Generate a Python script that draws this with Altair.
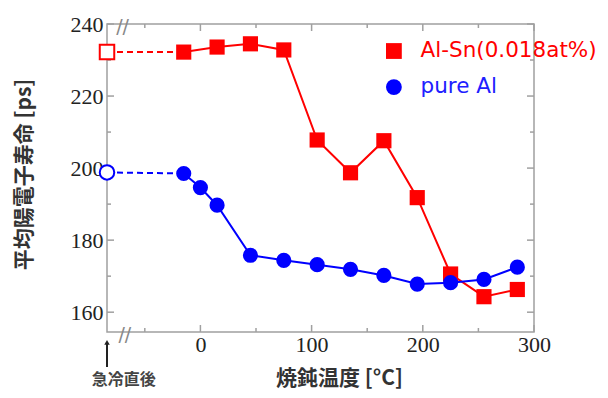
import altair as alt
import pandas as pd

# ---- data ----
temps_sn = [-15, 15, 45, 75, 105, 135, 165, 195, 225, 255, 285]
life_sn = [232.2, 233.6, 234.5, 232.8, 207.8, 198.7, 207.6, 191.8, 170.6, 164.3, 166.3]
temps_al = [-15, 0, 15, 45, 75, 105, 135, 165, 195, 225, 255, 285]
life_al = [198.5, 194.6, 189.7, 175.8, 174.4, 173.2, 171.9, 170.2, 167.8, 168.2, 169.1, 172.5]
quench_x = -84
quench_sn = 232.2
quench_al = 198.8
series_names = ["Al-Sn(0.018at%)", "pure Al"]
x_major = [0, 100, 200, 300]
x_minor = [-50, 50, 150, 250]
y_major = [160, 180, 200, 220, 240]
y_minor = [170, 190, 210, 230]

RED = "#ff0000"
BLUE = "#0000ff"
GRAY = "#a0a0a0"
W, H = 427, 308
MAJ, MIN = 7, 4

xs = alt.Scale(domain=[-84, 300], nice=False, zero=False)
ys = alt.Scale(domain=[154.5, 240], nice=False, zero=False)

main_x_axis = alt.Axis(values=x_major, ticks=False, domain=False, grid=False,
                       labelFont="Liberation Serif", labelFontSize=22, labelColor="#222",
                       labelPadding=2, labelFlush=False, labelOverlap=False,
                       title="焼鈍温度 [°C]", titleFont="Noto Sans CJK JP", titleFontSize=21,
                       titleFontWeight="bold", titleColor="#333", titleX=232, titleY=46,
                       titleAlign="center", titleBaseline="middle")
main_y_axis = alt.Axis(values=y_major, ticks=False, domain=False, grid=False,
                       labelFont="Liberation Serif", labelFontSize=22, labelColor="#222",
                       labelPadding=4, labelOverlap=False,
                       title="平均陽電子寿命 [ps]", titleFont="Noto Sans CJK JP", titleFontSize=21,
                       titleFontWeight="bold", titleColor="#333", titleX=-83, titleY=150,
                       titleAlign="center", titleBaseline="middle", titleAngle=270)

X = alt.X("x:Q", scale=xs, axis=main_x_axis)
Y = alt.Y("y:Q", scale=ys, axis=main_y_axis)

sn = pd.DataFrame({"x": temps_sn, "y": life_sn})
al = pd.DataFrame({"x": temps_al, "y": life_al})
dash_sn = pd.DataFrame({"x": [quench_x, temps_sn[0]], "y": [quench_sn, life_sn[0]]})
dash_al = pd.DataFrame({"x": [quench_x, temps_al[0]], "y": [quench_al, life_al[0]]})
open_sn = pd.DataFrame({"x": [quench_x], "y": [quench_sn]})
open_al = pd.DataFrame({"x": [quench_x], "y": [quench_al]})

# inward ticks: positions from the tick arrays through the scales, lengths in pixels
xt_maj = pd.DataFrame({"x": x_major})
xt_min = pd.DataFrame({"x": x_minor})
yt_maj = pd.DataFrame({"y": y_major})
yt_min = pd.DataFrame({"y": y_minor})


def xticks(df, size):
    bot = alt.Chart(df).mark_rule(color=GRAY, strokeWidth=1.5).encode(
        x=X, y=alt.value(H), y2=alt.value(H - size))
    top = alt.Chart(df).mark_rule(color=GRAY, strokeWidth=1.5).encode(
        x=X, y=alt.value(0), y2=alt.value(size))
    return [bot, top]


def yticks(df, size):
    left = alt.Chart(df).mark_rule(color=GRAY, strokeWidth=1.5).encode(
        y=Y, x=alt.value(0), x2=alt.value(size))
    right = alt.Chart(df).mark_rule(color=GRAY, strokeWidth=1.5).encode(
        y=Y, x=alt.value(W), x2=alt.value(W - size))
    return [left, right]


tick_layers = xticks(xt_maj, MAJ) + xticks(xt_min, MIN) + yticks(yt_maj, MAJ) + yticks(yt_min, MIN)

red_dash = alt.Chart(dash_sn).mark_line(color=RED, strokeWidth=2, strokeDash=[6, 4]).encode(x=X, y=Y)
blue_dash = alt.Chart(dash_al).mark_line(color=BLUE, strokeWidth=2, strokeDash=[6, 4]).encode(x=X, y=Y)
red_line = alt.Chart(sn).mark_line(color=RED, strokeWidth=2).encode(x=X, y=Y)
red_pts = alt.Chart(sn).mark_point(shape="square", filled=True, color=RED, size=230, opacity=1).encode(x=X, y=Y)
blue_line = alt.Chart(al).mark_line(color=BLUE, strokeWidth=2).encode(x=X, y=Y)
blue_pts = alt.Chart(al).mark_point(shape="circle", filled=True, color=BLUE, size=230, opacity=1).encode(x=X, y=Y)
red_open = alt.Chart(open_sn).mark_point(shape="square", filled=False, fill="white", color=RED,
                                         strokeWidth=2, size=210, opacity=1).encode(x=X, y=Y)
blue_open = alt.Chart(open_al).mark_point(shape="circle", filled=False, fill="white", color=BLUE,
                                          strokeWidth=2, size=210, opacity=1).encode(x=X, y=Y)

# legend (manual, inside the plot)
leg_sym = pd.DataFrame({"x": [174], "y": [232.5]})
leg_sym2 = pd.DataFrame({"x": [174], "y": [222.5]})
leg_txt = pd.DataFrame({"x": [198], "y": [232.5], "t": [series_names[0]]})
leg_txt2 = pd.DataFrame({"x": [198], "y": [222.5], "t": [series_names[1]]})
leg1 = alt.Chart(leg_sym).mark_point(shape="square", filled=True, color=RED, size=250, opacity=1).encode(x=X, y=Y)
leg2 = alt.Chart(leg_sym2).mark_point(shape="circle", filled=True, color=BLUE, size=250, opacity=1).encode(x=X, y=Y)
legt1 = alt.Chart(leg_txt).mark_text(align="left", baseline="middle", font="DejaVu Sans", fontSize=21.5,
                                      color=RED).encode(x=X, y=Y, text="t:N")
legt2 = alt.Chart(leg_txt2).mark_text(align="left", baseline="middle", font="DejaVu Sans", fontSize=21.5,
                                       color="#2020ff").encode(x=X, y=Y, text="t:N")

# axis break marks
brk = pd.DataFrame({"x": [-70, -68], "y": [239.3, 153.8], "t": ["//", "//"]})
breaks = alt.Chart(brk).mark_text(font="DejaVu Sans", fontSize=19, color="#888", baseline="middle",
                                  align="center").encode(x=X, y=Y, text="t:N")

# quench annotation
arrow_df = pd.DataFrame({"x": [quench_x], "y": [151.6], "y2": [144.8]})
arrow_shaft = alt.Chart(arrow_df).mark_rule(color="#222", strokeWidth=2).encode(x=X, y=Y, y2="y2:Q")
arrow_head = alt.Chart(arrow_df).mark_point(shape="triangle-up", filled=True, color="#222", size=30,
                                            opacity=1).encode(x=X, y=Y)
qt = pd.DataFrame({"x": [-69], "y": [141.2], "t": ["急冷直後"]})
quench_txt = alt.Chart(qt).mark_text(font="Noto Sans CJK JP", fontSize=16, fontWeight="bold",
                                     color="#444", baseline="middle").encode(x=X, y=Y, text="t:N")

chart = alt.layer(*tick_layers, red_dash, blue_dash, red_line, red_pts, blue_line, blue_pts,
                  red_open, blue_open, leg1, leg2, legt1, legt2, breaks,
                  arrow_shaft, arrow_head, quench_txt).properties(
    width=W, height=H,
    autosize=alt.AutoSizeParams(type="none"),
    padding={"left": 99, "top": 16, "right": 66, "bottom": 58},
    background="white",
).configure_view(stroke=GRAY, strokeWidth=1.5)

chart.save("out.html", embed_options={"renderer": "svg", "actions": False})
